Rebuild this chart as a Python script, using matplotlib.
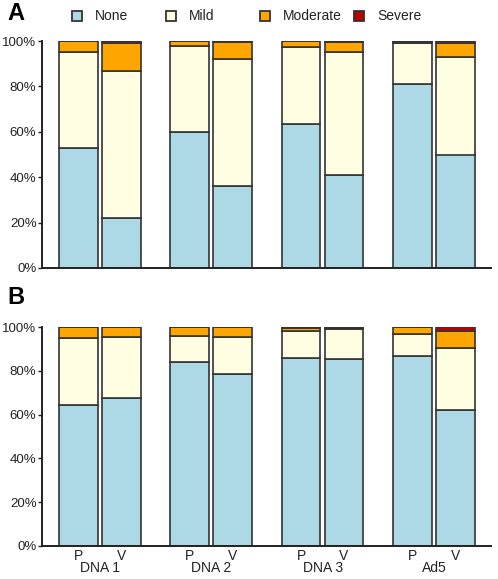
import numpy as np
import matplotlib
matplotlib.use("Agg")
import matplotlib.pyplot as plt
from matplotlib.patches import Rectangle

plt.rcParams["font.family"] = ["Liberation Sans", "DejaVu Sans"]

groups = ["DNA 1", "DNA 2", "DNA 3", "Ad5"]
arms = ["P", "V"]
severity = ["None", "Mild", "Moderate", "Severe"]
colors = ["#add8e6", "#fffde2", "#ffa500", "#c00000"]

# bar order: DNA1 P, DNA1 V, DNA2 P, DNA2 V, DNA3 P, DNA3 V, Ad5 P, Ad5 V
none_a = [53, 22, 60, 36, 63.5, 41, 81, 50]
mild_a = [42, 65, 38, 56, 34, 54, 18, 43]
moderate_a = [5, 12, 2, 7.4, 2.5, 4.4, 0.5, 6.1]
severe_a = [0, 1, 0, 0.6, 0, 0.6, 0.5, 0.9]

none_b = [64.5, 67.7, 83.9, 78.4, 85.7, 85.4, 86.8, 62]
mild_b = [30.6, 27.6, 12.1, 16.9, 12.3, 13.6, 10.2, 28.3]
moderate_b = [4.9, 4.7, 4.0, 4.7, 1.5, 0.5, 3.0, 7.9]
severe_b = [0, 0, 0, 0, 0.5, 0.5, 0, 1.8]

group_step = 2.59
x = np.array([g*group_step + a for g in range(len(groups)) for a in range(len(arms))])
edge = "#333333"


def stacked(ax, series):
	bottom = np.zeros(len(x))
	for vals, c in zip(series, colors):
		vals = np.array(vals, dtype=float)
		ax.bar(x, vals, bottom=bottom, width=0.9, color=c, edgecolor=edge, linewidth=1.2)
		bottom += vals
	ax.set_xlim(-0.85, x[-1]+0.83)
	ax.set_ylim(0, 100)
	ax.set_yticks([0, 20, 40, 60, 80, 100])
	ax.set_yticklabels(["%d%%" % v for v in [0, 20, 40, 60, 80, 100]], fontsize=9.5, color="#222222")
	ax.spines["top"].set_visible(False)
	ax.spines["right"].set_visible(False)
	ax.spines["left"].set_linewidth(1.4)
	ax.spines["bottom"].set_linewidth(1.4)
	ax.spines["left"].set_color("#222222")
	ax.spines["bottom"].set_color("#222222")
	ax.tick_params(axis="y", length=3, width=1.0, pad=1, color="#222222")


fig = plt.figure(figsize=(4.98, 5.79), dpi=100)
W, H = 498.0, 579.0

axA = fig.add_axes([42/W, 1-268/H, 449/W, 227/H])
stacked(axA, [none_a, mild_a, moderate_a, severe_a])
axA.set_xticks([])

axB = fig.add_axes([42/W, 1-546/H, 449/W, 219/H])
stacked(axB, [none_b, mild_b, moderate_b, severe_b])
axB.set_xticks(x)
axB.set_xticklabels(arms*len(groups), fontsize=10, color="#222222")
axB.tick_params(axis="x", length=0, pad=2)
for g, name in enumerate(groups):
	axB.text(g*group_step+0.5, -0.07, name, transform=axB.get_xaxis_transform(),
		ha="center", va="top", fontsize=10, color="#222222")

fig.text(7/W, 1-14/H, "A", fontsize=17, fontweight="bold", ha="left", va="center")
fig.text(7/W, 1-298/H, "B", fontsize=17, fontweight="bold", ha="left", va="center")

# legend
for i, (lab, c) in enumerate(zip(severity, colors)):
	x0 = 72 + 94*i
	fig.patches.append(Rectangle((x0/W, 1-21/H), 10/W, 10/H, transform=fig.transFigure,
		facecolor=c, edgecolor=edge, linewidth=1.3))
	fig.text((x0+23)/W, 1-16/H, lab, fontsize=10, ha="left", va="center", color="#222222")

fig.savefig("out.png", dpi=100)
